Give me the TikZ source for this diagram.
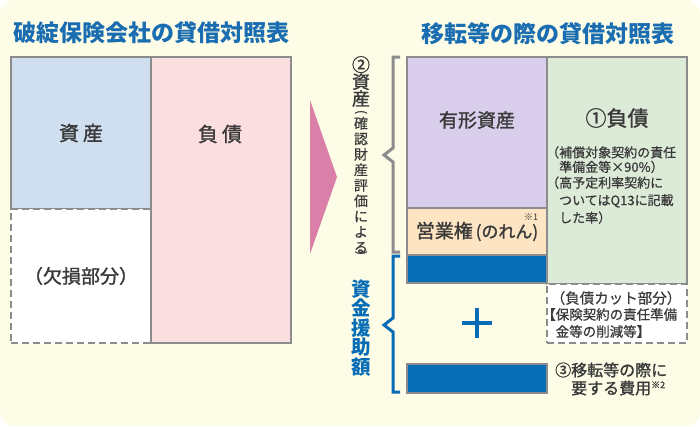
\documentclass[tikz,border=0pt]{standalone}
\usepackage{fontspec}
\setmainfont{Noto Sans CJK JP}
\newfontfamily\midfont{Noto Sans CJK JP}[FakeBold=1.3]
\newfontfamily\notefont{Noto Sans CJK JP}[FakeBold=0.7]
\usetikzlibrary{positioning}
\definecolor{bgcream}{HTML}{FDFDE7}
\definecolor{titleblue}{HTML}{1A6DB0}
\definecolor{framegray}{HTML}{8C8C8C}
\definecolor{inkgray}{HTML}{3A3A3A}
\definecolor{assetblue}{HTML}{D0DFF0}
\definecolor{debtpink}{HTML}{FADEE0}
\definecolor{lavender}{HTML}{D9CFED}
\definecolor{peach}{HTML}{FDE4C3}
\definecolor{mint}{HTML}{DCEAD8}
\definecolor{fundblue}{HTML}{066CB5}
\definecolor{arrowpink}{HTML}{DA7FA8}
\tikzset{
  cell/.style={rectangle, draw=framegray, line width=2pt, outer sep=0pt, inner sep=0pt, minimum width=140pt, text=inkgray},
  dashcell/.style={cell, fill=white, dash pattern=on 7pt off 4pt},
  txt/.style={inner sep=0pt, text=inkgray},
  title/.style={inner sep=0pt, text=titleblue, font=\fontsize{23}{23}\selectfont\bfseries},
  vtext/.style={inner sep=0pt, align=center},
  vparen/.style={txt, rotate=-90, font=\fontsize{12}{12}\selectfont\notefont},
}

\begin{document}
\begin{tikzpicture}[x=1pt, y=-1pt]
\useasboundingbox (0,0) rectangle (700,426);
\fill[bgcream, rounded corners=14pt] (0,0) rectangle (700,426);

% titles
\node (oldtitle) [title] at (151,33) {破綻保険会社の貸借対照表};
\node (newtitle) [title] at (548,34) {移転等の際の貸借対照表};

% balance sheet of the failed insurer
\node (oldasset) [cell, fill=assetblue, minimum height=152pt, anchor=north west, font=\fontsize{20}{20}\selectfont\midfont] at (11,57) {資\hspace{0.2em}産};
\node (oldloss) [dashcell, minimum height=134pt, below=0pt of oldasset, font=\fontsize{19}{19}\selectfont\midfont] {（欠損部分）};
\node (olddebt) [cell, fill=debtpink, minimum height=286pt, anchor=north west] at (151,57) {};
\node (olddebtlabel) [txt, font=\fontsize{20}{20}\selectfont\midfont] at (220,134) {負\hspace{0.2em}債};

% arrow
\fill[arrowpink] (310,100) -- (337,177) -- (310,254) -- cycle;

% balance sheet at the transfer
\node (tangible) [cell, fill=lavender, minimum height=151pt, anchor=north west] at (407,57) {};
\node (goodwill) [cell, fill=peach, minimum height=47pt, below=0pt of tangible, font=\fontsize{19}{19}\selectfont\midfont] {\raisebox{-3pt}{営業権{\fontsize{17}{17}\selectfont\,(のれん)}}};
\node (aidtop) [cell, fill=fundblue, minimum height=28pt, below=0pt of goodwill] {};
\node (debt) [cell, fill=mint, minimum height=227pt, anchor=north west] at (547,57) {};
\node (cut) [dashcell, minimum height=59pt, below=0pt of debt] {};
\node (aidcost) [cell, fill=fundblue, minimum height=29pt, anchor=north west] at (407,364) {};

\node (tangiblelabel) [txt, font=\fontsize{19}{19}\selectfont\midfont] at (477,120) {有形資産};
\node (debtlabel) [txt, font=\fontsize{21}{21}\selectfont\midfont] at (617,118) {①負債};
\node (mark1) [txt, font=\fontsize{9}{9}\selectfont] at (531,217) {※1};
\node (note1) [txt, anchor=north west, align=left, font=\fontsize{13}{14.5}\selectfont\notefont] at (546,146) {（補償対象契約の責任\\　準備金等×90\%）};
\node (note2) [txt, below right=3pt and 0pt of note1.south west, align=left, font=\fontsize{13}{17.5}\selectfont\notefont] {（高予定利率契約に\\　ついてはQ13に記載\\　した率）};

\node (cutlabel) [txt, font=\fontsize{14.5}{14.5}\selectfont\notefont] at (616,298) {（負債カット部分）};
\node (cutnote) [txt, anchor=north west, align=left, font=\fontsize{13.5}{17}\selectfont\notefont] at (542,308) {【保険契約の責任準備\\　金等の削減等】};

\node (costlabel) [txt, anchor=west, align=left, font=\fontsize{16}{18}\selectfont\midfont] at (555,379) {③移転等の際に\\　要する費用{\fontsize{9}{9}\selectfont\raisebox{6pt}{※2}}};

% plus
\draw[fundblue, line width=4pt] (462,323) -- (492,323) (477,308) -- (477,338);

% brackets
\draw[framegray, line width=3pt] (400,57) -- (393,57) -- (393,148) -- (384,155) -- (393,162) -- (393,252) -- (400,252);
\draw[fundblue, line width=3pt] (400,256) -- (393,256) -- (393,318) -- (384,325) -- (393,332) -- (393,392) -- (400,392);

% vertical labels
\node (assetnote) [vtext, anchor=north, text=inkgray, font=\fontsize{18}{17}\selectfont\midfont] at (361,56) {②\\資\\産};
\node (openparen) [vparen] at (361,112) {(};
\node (assetnotesub) [vtext, text=inkgray, font=\fontsize{14}{15.5}\selectfont\notefont] at (361,185) {確\\認\\財\\産\\評\\価\\に\\よ\\る};
\node (closeparen) [vparen] at (361,253) {)};
\node (aidlabel) [vtext, text=fundblue, font=\fontsize{19.5}{19.5}\selectfont\bfseries] at (361,328) {資\\金\\援\\助\\額};
\end{tikzpicture}
\end{document}
